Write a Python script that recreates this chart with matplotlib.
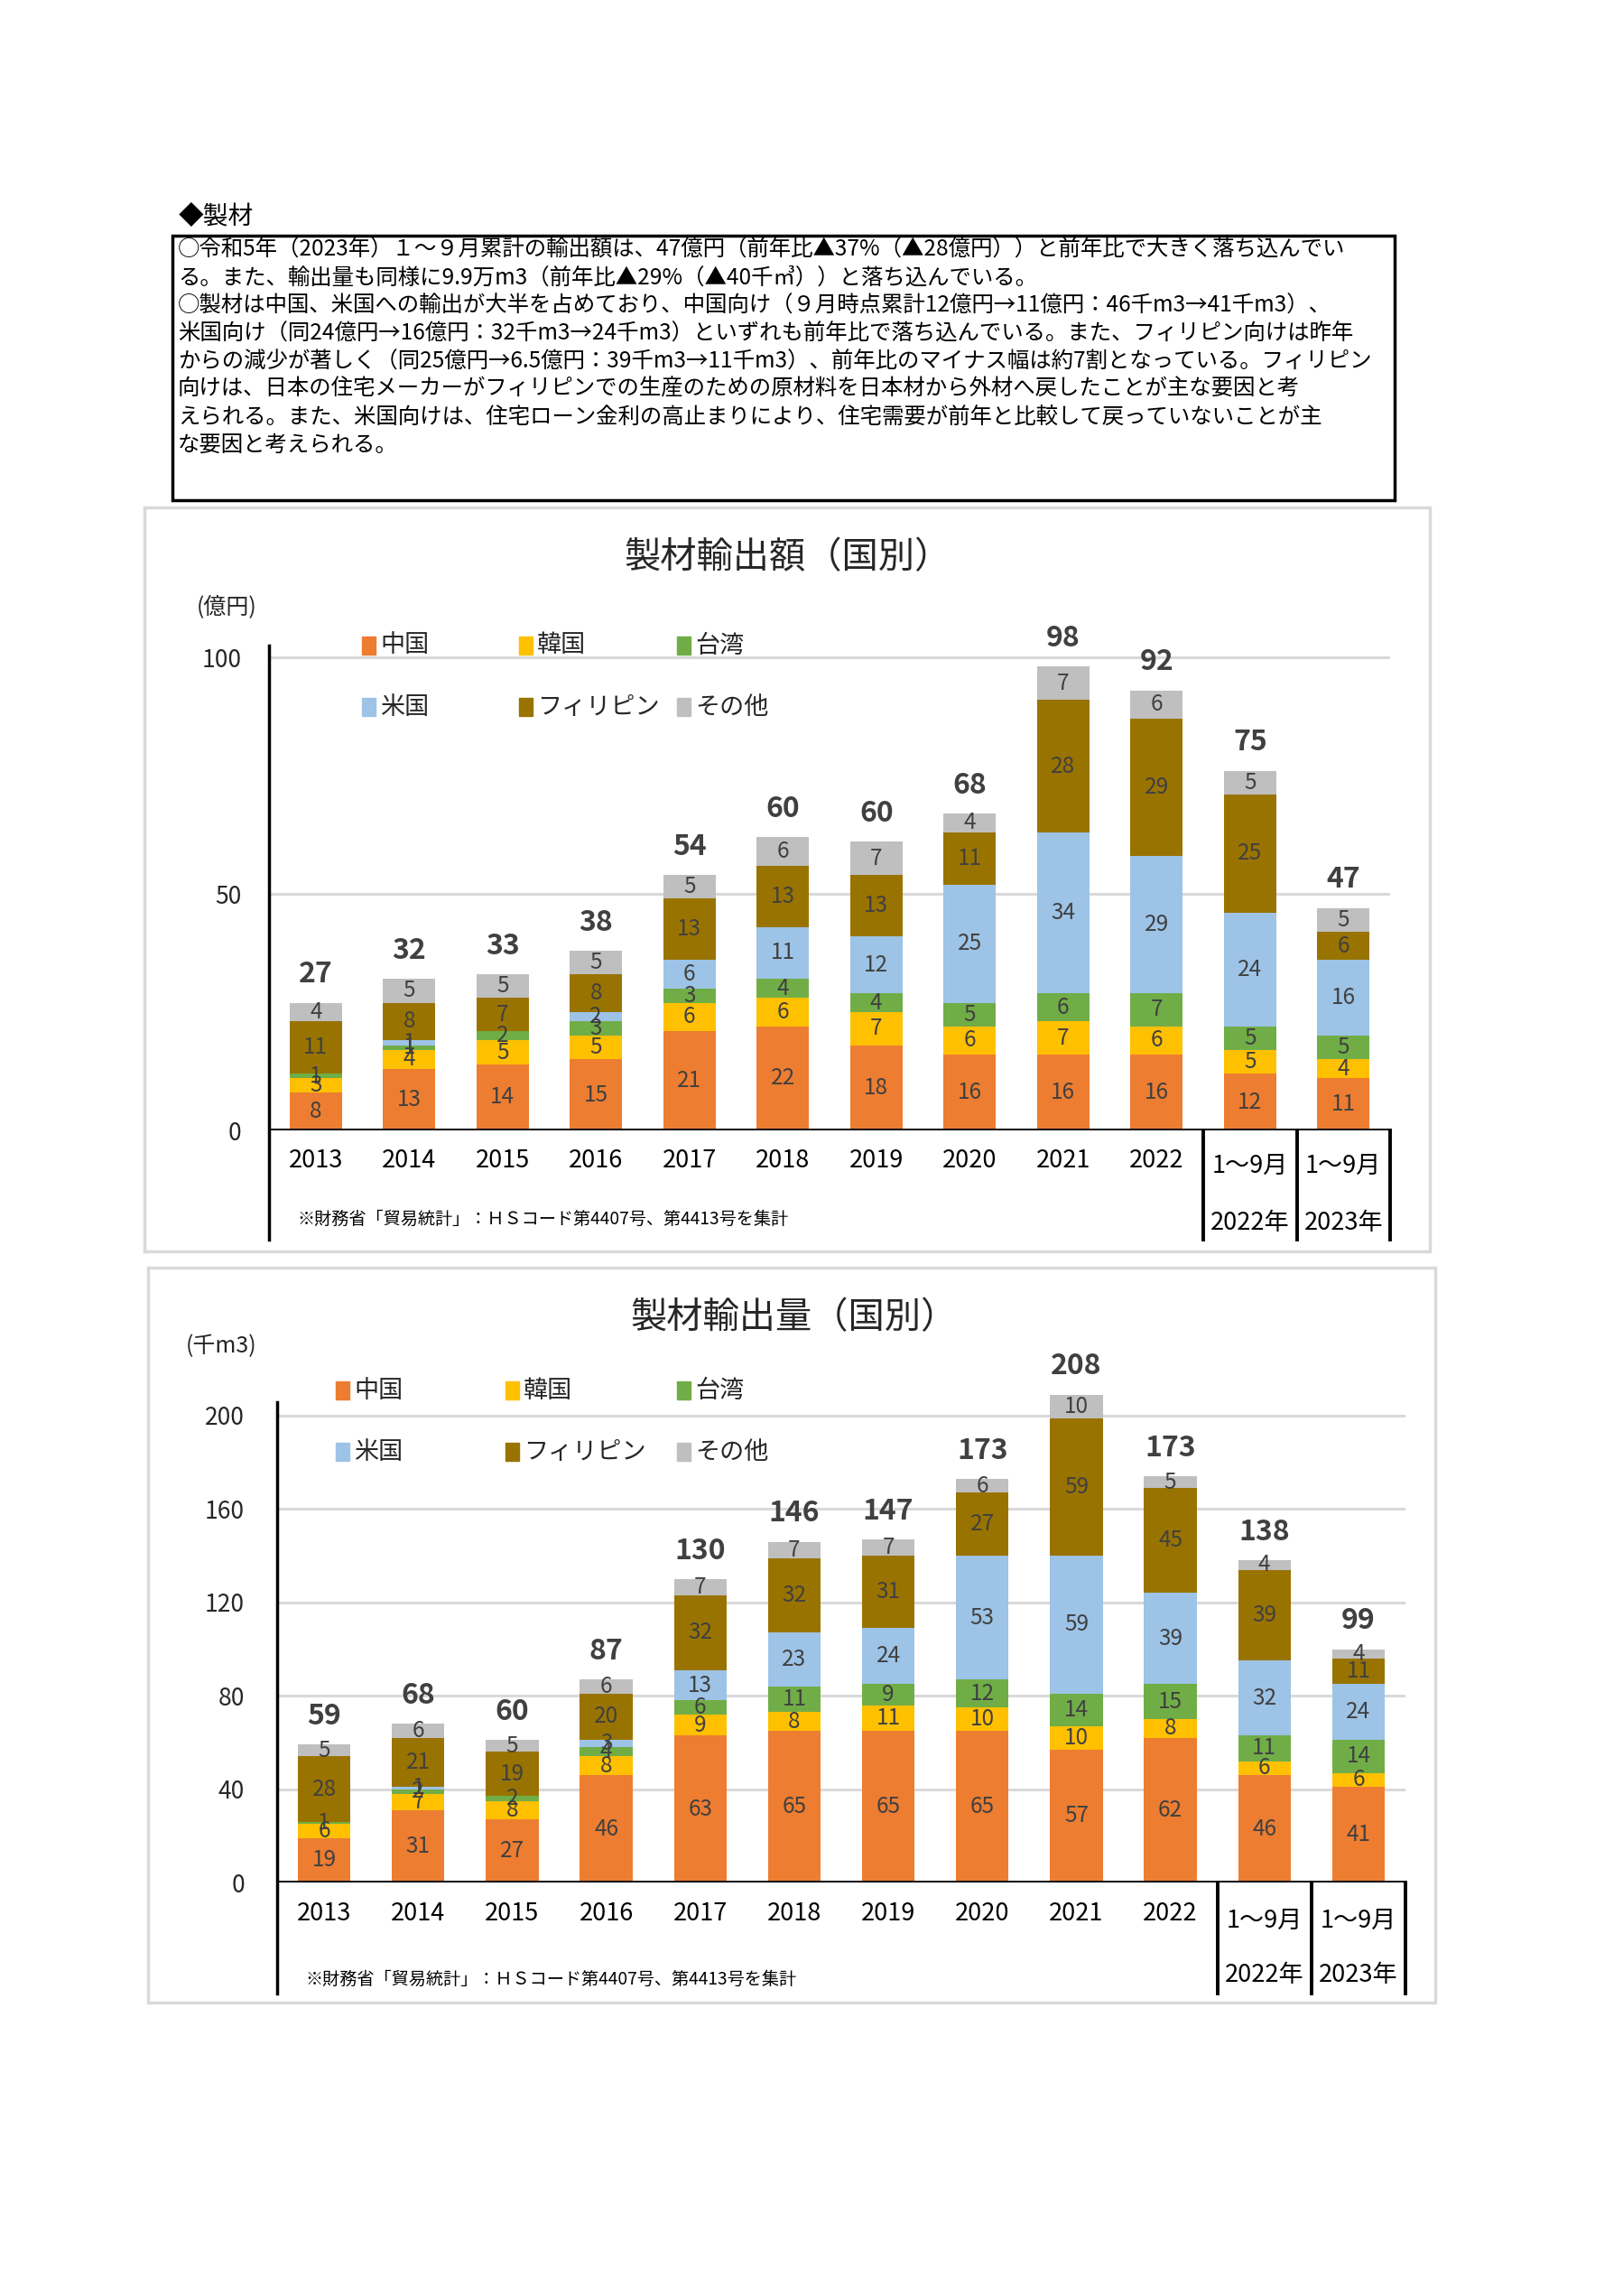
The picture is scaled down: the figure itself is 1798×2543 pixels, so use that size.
import matplotlib
matplotlib.use("Agg")
import matplotlib.pyplot as plt
from matplotlib.patches import Rectangle

plt.rcParams['font.family'] = ['Noto Sans CJK JP', 'DejaVu Sans']

W, H = 1798, 2543

# ---- data ----
categories = ['2013', '2014', '2015', '2016', '2017', '2018', '2019',
              '2020', '2021', '2022', '1～9月', '1～9月']
sub_labels = ['', '', '', '', '', '', '', '', '', '', '2022年', '2023年']
countries = ['中国', '韓国', '台湾', '米国', 'フィリピン', 'その他']
colors = ['#ED7D31', '#FFC000', '#70AD47', '#9DC3E6', '#997300', '#BFBFBF']

# 輸出額 (億円)
val_china = [8, 13, 14, 15, 21, 22, 18, 16, 16, 16, 12, 11]
val_korea = [3, 4, 5, 5, 6, 6, 7, 6, 7, 6, 5, 4]
val_taiwan = [1, 1, 2, 3, 3, 4, 4, 5, 6, 7, 5, 5]
val_us = [0, 1, 0, 2, 6, 11, 12, 25, 34, 29, 24, 16]
val_phil = [11, 8, 7, 8, 13, 13, 13, 11, 28, 29, 25, 6]
val_other = [4, 5, 5, 5, 5, 6, 7, 4, 7, 6, 5, 5]
val_total = [27, 32, 33, 38, 54, 60, 60, 68, 98, 92, 75, 47]

# 輸出量 (千m3)
vol_china = [19, 31, 27, 46, 63, 65, 65, 65, 57, 62, 46, 41]
vol_korea = [6, 7, 8, 8, 9, 8, 11, 10, 10, 8, 6, 6]
vol_taiwan = [1, 2, 2, 4, 6, 11, 9, 12, 14, 15, 11, 14]
vol_us = [0, 1, 0, 3, 13, 23, 24, 53, 59, 39, 32, 24]
vol_phil = [28, 21, 19, 20, 32, 32, 31, 27, 59, 45, 39, 11]
vol_other = [5, 6, 5, 6, 7, 7, 7, 6, 10, 5, 4, 4]
vol_total = [59, 68, 60, 87, 130, 146, 147, 173, 208, 173, 138, 99]

body_lines = [
    '○令和5年（2023年）１～９月累計の輸出額は、47億円（前年比▲37%（▲28億円））と前年比で大きく落ち込んでい',
    'る。また、輸出量も同様に9.9万m3（前年比▲29%（▲40千㎥））と落ち込んでいる。',
    '○製材は中国、米国への輸出が大半を占めており、中国向け（９月時点累計12億円→11億円：46千m3→41千m3）、',
    '米国向け（同24億円→16億円：32千m3→24千m3）といずれも前年比で落ち込んでいる。また、フィリピン向けは昨年',
    'からの減少が著しく（同25億円→6.5億円：39千m3→11千m3）、前年比のマイナス幅は約7割となっている。フィリピン',
    '向けは、日本の住宅メーカーがフィリピンでの生産のための原材料を日本材から外材へ戻したことが主な要因と考',
    'えられる。また、米国向けは、住宅ローン金利の高止まりにより、住宅需要が前年と比較して戻っていないことが主',
    'な要因と考えられる。',
]
note = '※財務省「貿易統計」：ＨＳコード第4407号、第4413号を集計'

fig = plt.figure(figsize=(W / 100, H / 100), dpi=100)


def fx(x):
    return x / W


def fy(y):
    return 1 - y / H


def frame(x0, y0, x1, y1, color, lw):
    fig.patches.append(Rectangle((fx(x0), fy(y1)), fx(x1) - fx(x0), fy(y0) - fy(y1),
                                 transform=fig.transFigure, fill=False,
                                 edgecolor=color, lw=lw))


# ---- text block ----
fig.text(fx(198), fy(240), '◆製材', fontsize=20, va='center', ha='left')
frame(191, 261, 1545, 554, 'black', 2.5)
for i, line in enumerate(body_lines):
    fig.text(fx(197), fy(277 + i * 30.8), line, fontsize=17.6, va='center', ha='left')


def stacked_chart(series, totals, box, plot, ylim, yticks, title, title_xy,
                  unit, unit_xy, legend_x, legend_y, pad, ylines, xlab_y):
    frame(*box, '#D9D9D9', 2.5)
    left, right, y0, top = plot
    ax = fig.add_axes([fx(left), fy(y0), fx(right) - fx(left), fy(top) - fy(y0)])
    x = list(range(len(categories)))
    bottom = [0] * len(categories)
    cont = None
    for vals, c in zip(series, colors):
        cont = ax.bar(x, vals, 0.56, bottom=bottom, color=c, zorder=2)
        ax.bar_label(cont, labels=[str(v) if v > 0 else '' for v in vals],
                     label_type='center', color='#404040', fontsize=17.5)
        bottom = [b + v for b, v in zip(bottom, vals)]
    ax.bar_label(cont, labels=[str(t) for t in totals], padding=11,
                 color='#404040', fontsize=23, fontweight='bold')

    ax.set_xlim(-0.5, 11.5)
    ax.set_ylim(*ylim)
    ax.set_yticks(yticks)
    ax.set_xticks([])
    ax.tick_params(axis='y', length=0, pad=pad, labelsize=19, labelcolor='#262626')
    ax.yaxis.grid(True, color='#D9D9D9', lw=2.2)
    ax.set_axisbelow(True)
    for s in ax.spines.values():
        s.set_visible(False)
    ax.axhline(0, color='black', lw=2.8, zorder=3)
    lo, hi = ylines
    ax.plot([-0.5, -0.5], [lo, hi], color='black', lw=2.5, clip_on=False, zorder=3)
    for xv in (9.5, 10.5, 11.5):
        ax.plot([xv, xv], [0, lo], color='black', lw=2.8, clip_on=False, zorder=3)

    y_year, y_month, y_sub, y_note = xlab_y
    for i, lab in enumerate(categories):
        yy = y_month if sub_labels[i] else y_year
        ax.text(i, yy, lab, ha='center', va='center', fontsize=19.5, clip_on=False)
        if sub_labels[i]:
            ax.text(i, y_sub, sub_labels[i], ha='center', va='center', fontsize=19.5,
                    clip_on=False)
    ax.text(-0.2, y_note, note, ha='left', va='center', fontsize=13.8, clip_on=False)

    fig.text(fx(title_xy[0]), fy(title_xy[1]), title, ha='center', va='center',
             fontsize=29, color='#262626')
    fig.text(fx(unit_xy[0]), fy(unit_xy[1]), unit, ha='center', va='center',
             fontsize=18, color='#262626')
    for i, (name, c) in enumerate(zip(countries, colors)):
        lx = legend_x[i % 3]
        ly = legend_y[i // 3]
        fig.patches.append(Rectangle((fx(lx), fy(ly + 10)), 15 / W, 20 / H,
                                     transform=fig.transFigure, color=c))
        fig.text(fx(lx + 20), fy(ly), name, ha='left', va='center', fontsize=19.5,
                 color='#262626')
    return ax


s_px = (1252 - 728) / 100.0
stacked_chart([val_china, val_korea, val_taiwan, val_us, val_phil, val_other], val_total,
              (160, 562, 1584, 1386),
              (298, 1540, 1252, 1252 - 110 * s_px), (0, 110), [0, 50, 100],
              '製材輸出額（国別）', (873, 618), '(億円)', (251, 673),
              (401, 575, 750), (715, 783), 22,
              (-23.1, 102.5),
              (-6.4, -7.6, -19.5, -18.7))

v_px = (2085 - 1568) / 200.0
stacked_chart([vol_china, vol_korea, vol_taiwan, vol_us, vol_phil, vol_other], vol_total,
              (164, 1404, 1590, 2218),
              (307, 1557, 2085, 2085 - 225 * v_px), (0, 225), [0, 40, 80, 120, 160, 200],
              '製材輸出量（国別）', (880, 1460), '(千m3)', (245, 1491),
              (372, 560, 750), (1540, 1608), 26,
              (-47.6, 205.8),
              (-13.5, -16.2, -39.5, -41.4))

fig.savefig('out.png', dpi=100)
